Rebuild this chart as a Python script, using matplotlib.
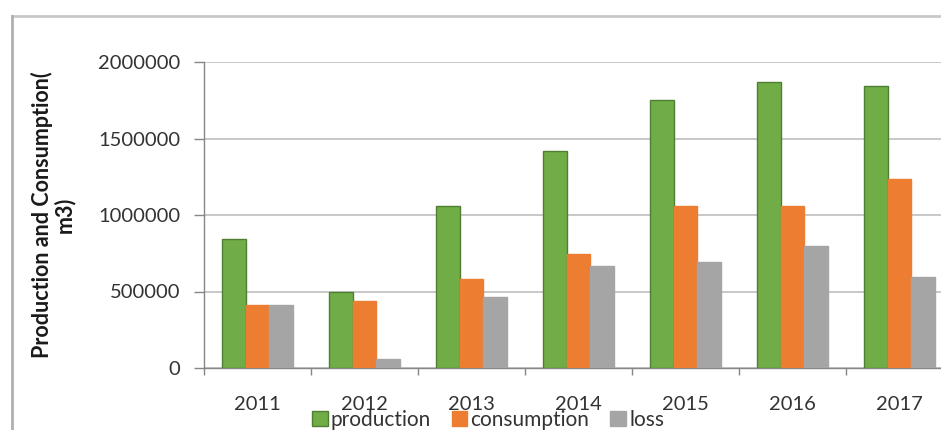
import matplotlib
matplotlib.use("Agg")
import matplotlib.pyplot as plt
import numpy as np
from matplotlib.lines import Line2D

plt.rcParams['font.family'] = ['Lato', 'DejaVu Sans']

years = ["2011", "2012", "2013", "2014", "2015", "2016", "2017"]
production = [844000, 500000, 1056000, 1418000, 1751000, 1867000, 1843000]
consumption = [411000, 435000, 582000, 746000, 1056000, 1062000, 1237000]
loss = [411000, 57000, 461000, 669000, 690000, 795000, 592000]
y_ticks = [0, 500000, 1000000, 1500000, 2000000]

series = [
    ("production", production, "#70AD47", "#4F7F32"),
    ("consumption", consumption, "#ED7D31", "#ED7D31"),
    ("loss", loss, "#A5A5A5", "#A5A5A5"),
]

W, H = 941, 430
fig = plt.figure(figsize=(W / 100, H / 100), dpi=100)
fig.patch.set_facecolor("white")

# plot area in pixel terms: left 204, top 62, bottom 368, 107 px per category
left, top, bottom, cat = 204, 62, 368, 107
ax = fig.add_axes([left / W, (H - bottom) / H, 7 * cat / W, (bottom - top) / H])

x = np.arange(len(years))
bw = 1 / 4.5
for i, (name, vals, fc, ec) in enumerate(series):
    ax.bar(x + (i - 1) * bw, vals, width=bw, color=fc, edgecolor=ec,
           linewidth=1.0, label=name, zorder=3)

ax.set_xlim(-0.5, len(years) - 0.5)
ax.set_ylim(0, 2000000)
ax.set_yticks(y_ticks)
ax.set_yticklabels([str(v) for v in y_ticks])
ax.yaxis.grid(True, color="#BFBFBF", linewidth=1.2, zorder=0)
ax.set_axisbelow(True)

# category boundaries get tick marks, labels sit at the centres
ax.set_xticks(np.arange(-0.5, len(years), 1.0))
ax.set_xticklabels([])
ax.set_xticks(x, minor=True)
ax.set_xticklabels(years, minor=True)
ax.tick_params(axis="x", which="major", length=5, color="#868686", width=1)
ax.tick_params(axis="x", which="minor", length=0, pad=20, labelsize=14.5,
               labelcolor="#333333")
ax.tick_params(axis="y", length=7, color="#868686", width=1, pad=10,
               labelsize=14.5, labelcolor="#333333")

for s in ("top", "right"):
    ax.spines[s].set_visible(False)
for s in ("left", "bottom"):
    ax.spines[s].set_color("#868686")
    ax.spines[s].set_linewidth(1.0)

fig.text(53 / W, 1 - 214.5 / H, "Production and Consumption(\nm3)",
         rotation=90, ha="center", va="center", fontsize=15.5,
         fontweight="bold", color="#1a1a1a", linespacing=1.05)

handles = [plt.Rectangle((0, 0), 1, 1, facecolor=fc, edgecolor=ec)
           for _, _, fc, ec in series]
fig.legend(handles, [s[0] for s in series], loc="center",
           bbox_to_anchor=(488 / W, 1 - 420 / H), ncol=3, frameon=False,
           fontsize=15, handlelength=0.75, handleheight=0.75,
           handletextpad=0.15, columnspacing=1.0, labelcolor="#333333",
           borderpad=0, borderaxespad=0)

# outer chart frame
fig.add_artist(Line2D([12 / W, 1], [1 - 16 / H, 1 - 16 / H],
                      transform=fig.transFigure, color="#C8C8C8", linewidth=2))
fig.add_artist(Line2D([12 / W, 12 / W], [0, 1 - 16 / H],
                      transform=fig.transFigure, color="#B0B0B0", linewidth=2))

fig.savefig("out.png", dpi=100, facecolor="white")
